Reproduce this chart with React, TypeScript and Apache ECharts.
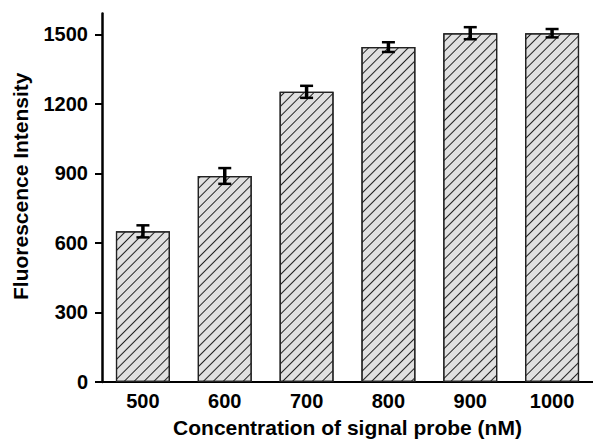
import React, { useEffect, useRef } from "react";
import * as echarts from "echarts";

const concentrations = ["500", "600", "700", "800", "900", "1000"];
const intensity = [650, 889, 1252, 1445, 1505, 1505];
const errors = [26, 34, 26, 21, 26, 18];
const yTicks = [0, 300, 600, 900, 1200, 1500];

export default function App() {
  const ref = useRef<HTMLDivElement>(null);
  useEffect(() => {
    document.body.style.margin = "0";
    const chart = echarts.init(ref.current!, null, { renderer: "svg" });
    const font = "'Liberation Sans', Arial, sans-serif";
    chart.setOption({
      animation: false,
      backgroundColor: "#ffffff",
      grid: { left: 102, top: 13.5, width: 496, height: 371.5 },
      xAxis: {
        type: "category",
        data: concentrations,
        name: "Concentration of signal probe (nM)",
        nameLocation: "middle",
        nameGap: 35,
        nameTextStyle: { fontFamily: font, fontWeight: "bold", fontSize: 21, color: "#000" },
        axisLine: { lineStyle: { color: "#000", width: 2 } },
        axisTick: { alignWithLabel: true, length: 6, lineStyle: { color: "#000", width: 2 } },
        axisLabel: { fontFamily: font, fontWeight: "bold", fontSize: 20, color: "#000", margin: 9 },
      },
      yAxis: {
        type: "value",
        min: 0,
        max: 1590,
        interval: 300,
        name: "Fluorescence Intensity",
        nameLocation: "middle",
        nameGap: 71,
        nameTextStyle: { fontFamily: font, fontWeight: "bold", fontSize: 21, color: "#000", padding: [0, 0, 0, 23] },
        splitLine: { show: false },
        axisLine: { show: true, lineStyle: { color: "#000", width: 2.5 } },
        axisTick: { show: true, length: 7, customValues: yTicks, lineStyle: { color: "#000", width: 2 } },
        axisLabel: {
          fontFamily: font,
          fontWeight: "bold",
          fontSize: 20,
          color: "#000",
          margin: 14,
          customValues: yTicks,
          formatter: (v: number) => String(v),
        },
      },
      series: [
        {
          type: "bar",
          data: intensity,
          barWidth: 54,
          itemStyle: {
            color: "#e0e0e0",
            borderColor: "#222",
            borderWidth: 1.2,
            decal: {
              symbol: "rect",
              symbolSize: 1,
              dashArrayX: [1, 0],
              dashArrayY: [1, 5.4],
              rotation: -Math.PI / 4,
              color: "#222",
            },
          },
        },
        {
          type: "custom",
          data: intensity.map((v, i) => [i, v, errors[i]]),
          renderItem: (params: any, api: any) => {
            const i = api.value(0);
            const v = api.value(1);
            const e = api.value(2);
            const top = api.coord([i, v + e]);
            const bot = api.coord([i, v - e]);
            const hw = 6.5;
            return {
              type: "group",
              children: [
                { type: "line", shape: { x1: top[0], y1: top[1], x2: bot[0], y2: bot[1] }, style: { stroke: "#000", lineWidth: 3.5 } },
                { type: "line", shape: { x1: top[0] - hw, y1: top[1], x2: top[0] + hw, y2: top[1] }, style: { stroke: "#000", lineWidth: 2.5 } },
                { type: "line", shape: { x1: bot[0] - hw, y1: bot[1], x2: bot[0] + hw, y2: bot[1] }, style: { stroke: "#000", lineWidth: 2.5 } },
              ],
            };
          },
          z: 10,
        },
      ],
    });
    return () => chart.dispose();
  }, []);
  return <div ref={ref} style={{ width: 593, height: 443 }} />;
}
